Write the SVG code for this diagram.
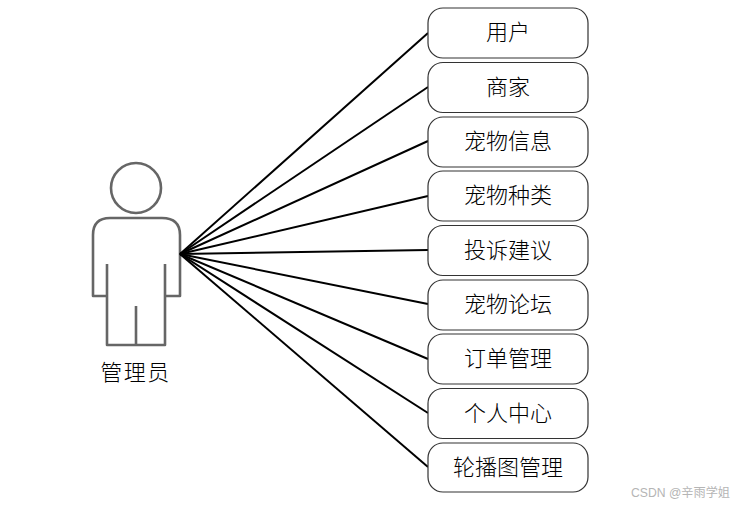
<svg xmlns="http://www.w3.org/2000/svg" width="741" height="505" viewBox="0 0 741 505">
<style>
.n{fill:#fff;stroke:#333;stroke-width:1.2}
.t{font-family:"Noto Sans CJK SC","Noto Sans CJK JP",sans-serif;font-size:22px;font-weight:300;fill:#000;text-anchor:middle}
.c line{stroke:#000;stroke-width:2}
.a{fill:none;stroke:#666;stroke-width:2.6;stroke-linejoin:round}
</style>
<rect width="741" height="505" fill="#fff"/>
<g id="actor">
<circle class="a" cx="136" cy="188" r="25"/>
<path class="a" d="M107 296H93V235Q93 218 110 218H162Q180 218 180 235V296H165M107 264V345H165V264M136 306V345"/>
<text class="t" x="135.500" y="380" letter-spacing="1.500">管理员</text>
</g>
<g class="c" id="connectors">
<line x1="180" y1="254" x2="428" y2="33"/>
<line x1="180" y1="254" x2="428" y2="87"/>
<line x1="180" y1="254" x2="428" y2="141"/>
<line x1="180" y1="254" x2="428" y2="196"/>
<line x1="180" y1="254" x2="428" y2="250"/>
<line x1="180" y1="254" x2="428" y2="304"/>
<line x1="180" y1="254" x2="428" y2="359"/>
<line x1="180" y1="254" x2="428" y2="413"/>
<line x1="180" y1="254" x2="428" y2="467"/>
</g>
<g id="n1"><rect class="n" x="428" y="8" width="160" height="50" rx="15"/><text class="t" x="508" y="40">用户</text></g>
<g id="n2"><rect class="n" x="428" y="62.500" width="160" height="50" rx="15"/><text class="t" x="508" y="95">商家</text></g>
<g id="n3"><rect class="n" x="428" y="117" width="160" height="50" rx="15"/><text class="t" x="508" y="149">宠物信息</text></g>
<g id="n4"><rect class="n" x="428" y="171" width="160" height="50" rx="15"/><text class="t" x="508" y="203">宠物种类</text></g>
<g id="n5"><rect class="n" x="428" y="225.500" width="160" height="50" rx="15"/><text class="t" x="508" y="258">投诉建议</text></g>
<g id="n6"><rect class="n" x="428" y="280" width="160" height="50" rx="15"/><text class="t" x="508" y="312">宠物论坛</text></g>
<g id="n7"><rect class="n" x="428" y="334" width="160" height="50" rx="15"/><text class="t" x="508" y="366">订单管理</text></g>
<g id="n8"><rect class="n" x="428" y="388.500" width="160" height="50" rx="15"/><text class="t" x="508" y="421">个人中心</text></g>
<g id="n9"><rect class="n" x="428" y="443" width="160" height="49" rx="15"/><text class="t" x="508" y="475">轮播图管理</text></g>
<text x="631" y="497" font-family="'Liberation Sans','Noto Sans CJK SC',sans-serif" font-size="12.200" fill="#b5b5b5">CSDN @辛雨学姐</text>
</svg>
